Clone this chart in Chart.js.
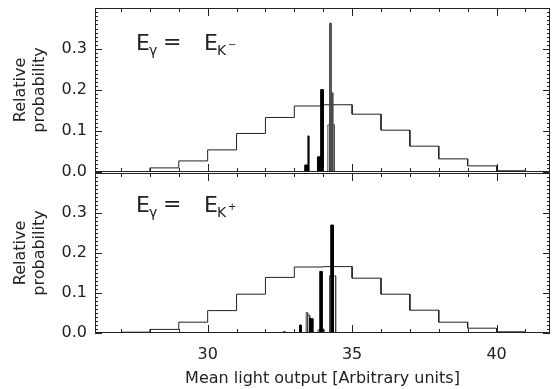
<!DOCTYPE html>
<html>
<head>
<meta charset="utf-8">
<script src="https://cdn.jsdelivr.net/npm/chart.js@4.4.1/dist/chart.umd.min.js"></script>
<style>
  html, body { margin: 0; padding: 0; background: #fff; }
  #wrap { position: relative; width: 553px; height: 389px; }
  canvas { position: absolute; left: 0; }
  #top { top: 0; z-index: 2; }
  #bottom { top: 173px; z-index: 1; }
</style>
</head>
<body>
<div id="wrap">
  <canvas id="top" width="553" height="190"></canvas>
  <canvas id="bottom" width="553" height="216"></canvas>
</div>
<script>
// wide histogram, one bin per unit of light output
const histEdges = [26, 27, 28, 29, 30, 31, 32, 33, 34, 35, 36, 37, 38, 39, 40, 41, 42];
const histTop = [0, 0.001, 0.010, 0.027, 0.054, 0.094, 0.133, 0.161, 0.164, 0.141, 0.102, 0.063, 0.032, 0.015, 0.003, 0];
const histBottom = [0, 0.002, 0.009, 0.027, 0.056, 0.097, 0.139, 0.165, 0.166, 0.137, 0.097, 0.057, 0.027, 0.012, 0.003, 0];

// narrow distributions as [from, to, height]
const topFilled = [[33.36, 33.47, 0.017], [33.47, 33.50, 0.088], [33.80, 33.91, 0.037], [33.91, 34.00, 0.201]];
const topOpen = [[34.16, 34.22, 0.115], [34.22, 34.27, 0.363], [34.27, 34.33, 0.193], [34.33, 34.39, 0.115]];
const bottomFilled = [[32.62, 32.68, 0.003], [33.18, 33.24, 0.020], [33.53, 33.57, 0.037], [33.57, 33.60, 0.030],
  [33.60, 33.64, 0.036], [33.88, 33.96, 0.154], [34.26, 34.35, 0.270]];
const bottomOpen = [[33.41, 33.46, 0.051], [33.46, 33.53, 0.045], [33.82, 33.88, 0.008], [33.96, 34.02, 0.010],
  [34.22, 34.43, 0.143]];

const xTicks = [30, 35, 40];
const yTicks = [0, 0.1, 0.2, 0.3];
const xRange = [26.1, 41.85];
const yMax = 0.40;

const FONT = '"DejaVu Sans", sans-serif';
const INK = '#222';

// staircase through the bin tops
function steps(edges, heights) {
  const pts = [];
  heights.forEach((h, i) => {
    pts.push({ x: edges[i], y: h }, { x: edges[i + 1], y: h });
  });
  return pts;
}

// each bin as its own box, broken apart with gaps
function boxes(bins) {
  const pts = [];
  bins.forEach(([a, b, h]) => {
    pts.push({ x: a, y: 0 }, { x: a, y: h }, { x: b, y: h }, { x: b, y: 0 }, { x: b, y: null });
  });
  return pts;
}

// closed frame with inward ticks on all four sides
const frame = {
  id: 'frame',
  afterDatasetsDraw(chart) {
    const { ctx, chartArea: a, scales: { x, y } } = chart;
    ctx.save();
    ctx.strokeStyle = INK;
    ctx.lineWidth = 1;
    ctx.beginPath();
    ctx.rect(a.left + 0.5, a.top + 0.5, a.right - a.left - 1, a.bottom - a.top - 1);
    for (let v = 27; v <= 41; v++) {
      const px = Math.round(x.getPixelForValue(v)) + 0.5;
      const len = v % 5 === 0 ? 8 : 4;
      ctx.moveTo(px, a.bottom); ctx.lineTo(px, a.bottom - len);
      ctx.moveTo(px, a.top); ctx.lineTo(px, a.top + len);
    }
    for (let i = 0; i <= 40; i++) {
      const py = Math.round(y.getPixelForValue(i / 100)) + 0.5;
      const len = i % 10 === 0 ? 7 : 3;
      ctx.moveTo(a.left, py); ctx.lineTo(a.left + len, py);
      ctx.moveTo(a.right, py); ctx.lineTo(a.right - len, py);
    }
    ctx.stroke();
    ctx.restore();
  }
};

// E_gamma = E_K label in the upper left corner
const energy = {
  id: 'energy',
  afterDraw(chart, args, opts) {
    const { ctx, chartArea: a } = chart;
    const x0 = a.left + 41, y0 = a.top + opts.dy;
    ctx.save();
    ctx.fillStyle = INK;
    ctx.textBaseline = 'alphabetic';
    ctx.font = '22px ' + FONT;
    ctx.fillText('E', x0, y0);
    ctx.fillText('=', x0 + 27, y0 - 1);
    ctx.fillText('E', x0 + 68, y0);
    ctx.font = '14px ' + FONT;
    ctx.fillText('γ', x0 + 13, y0 + 5);
    ctx.fillText('K', x0 + 81, y0 + 5);
    ctx.font = '10px ' + FONT;
    ctx.fillText(opts.sign, x0 + 92, y0 - 2);
    ctx.restore();
  }
};

// drop the room Chart.js keeps for half-labels at the axis ends
function noEndPadding(s) {
  s.paddingTop = 0;
  s.paddingBottom = 0;
  s.paddingLeft = 0;
  s.paddingRight = 0;
}

function panel(id, hist, filled, open, opts) {
  const el = document.getElementById(id);
  return new Chart(el.getContext('2d'), {
    type: 'line',
    data: {
      datasets: [{
        data: boxes(filled),
        borderColor: '#000',
        backgroundColor: '#000',
        borderWidth: 1,
        fill: 'origin'
      }, {
        data: boxes(open),
        borderColor: '#444',
        borderWidth: 1,
        fill: false
      }, {
        data: steps(histEdges, hist),
        borderColor: INK,
        borderWidth: 1,
        fill: false
      }]
    },
    options: {
      responsive: false,
      animation: false,
      devicePixelRatio: 1,
      spanGaps: false,
      elements: { point: { radius: 0 }, line: { tension: 0 } },
      layout: { padding: { top: opts.padTop, right: 3, left: 0, bottom: 0 } },
      plugins: {
        legend: { display: false },
        tooltip: { enabled: false },
        energy: { dy: opts.labelY, sign: opts.sign }
      },
      scales: {
        x: {
          type: 'linear',
          min: xRange[0],
          max: xRange[1],
          grid: { display: false, drawTicks: false },
          border: { display: false },
          afterBuildTicks: s => { s.ticks = xTicks.map(v => ({ value: v })); },
          afterFit: s => { s.height = opts.xHeight; noEndPadding(s); },
          ticks: { display: opts.showX, color: INK, font: { size: 16 }, padding: 12 },
          title: {
            display: opts.showX,
            text: 'Mean light output [Arbitrary units]',
            color: INK,
            font: { size: 16 },
            padding: { top: 0, bottom: 1 }
          }
        },
        y: {
          min: 0,
          max: yMax,
          grid: { display: false, drawTicks: false },
          border: { display: false },
          afterBuildTicks: s => { s.ticks = yTicks.map(v => ({ value: v })); },
          afterFit: s => { s.width = 95; noEndPadding(s); },
          ticks: { color: INK, font: { size: 16 }, padding: 8, callback: v => v.toFixed(1) },
          title: {
            display: true,
            text: ['Relative', 'probability'],
            color: INK,
            font: { size: 16, lineHeight: 1.2 },
            padding: { top: 11, bottom: 0 }
          }
        }
      }
    },
    plugins: [frame, energy]
  });
}

Chart.defaults.font.family = FONT;

// upper canvas runs past its plot so the 0.0 label is not cut off
panel('top', histTop, topFilled, topOpen,
  { padTop: 8, xHeight: 18, showX: false, labelY: 42, sign: '−' });
panel('bottom', histBottom, bottomFilled, bottomOpen,
  { padTop: 0, xHeight: 56, showX: true, labelY: 39, sign: '+' });
</script>
</body>
</html>
